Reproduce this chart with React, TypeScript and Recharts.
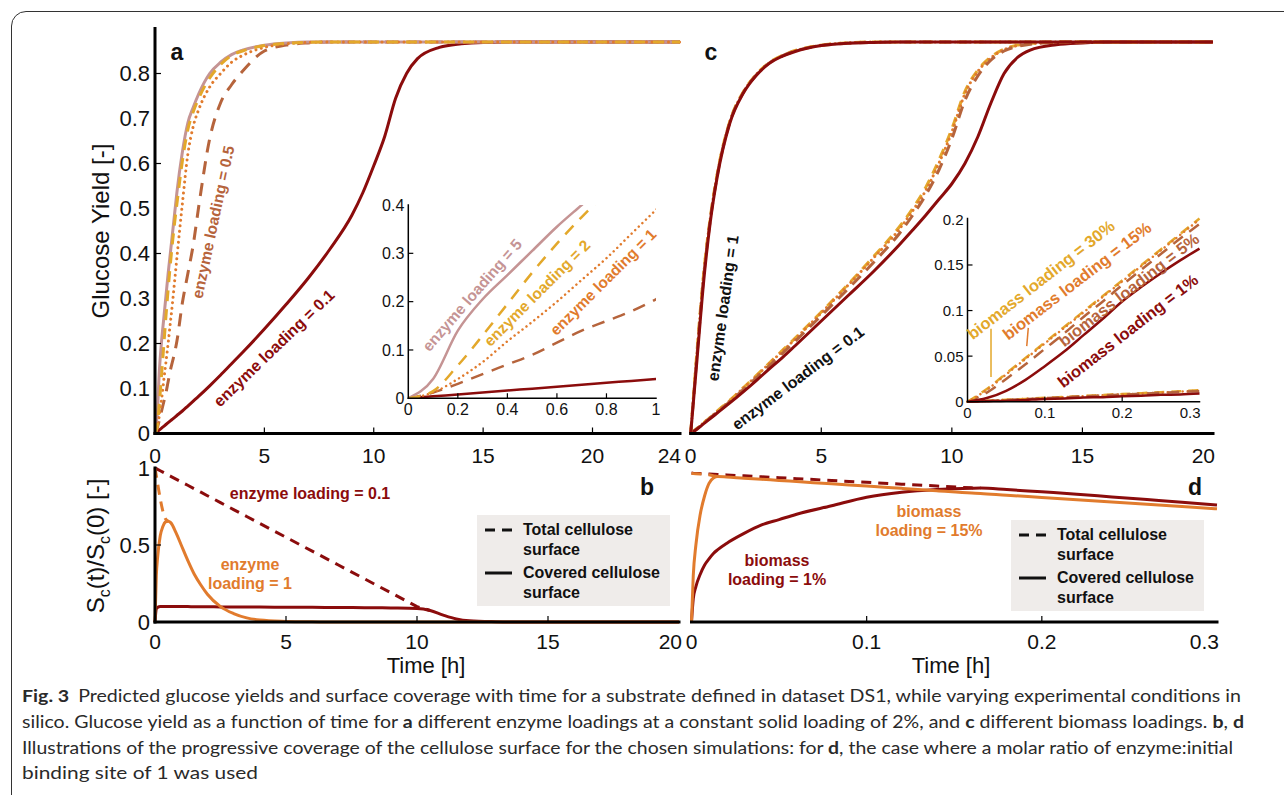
import React from 'react'
import { LineChart, Line, XAxis, YAxis, ReferenceLine } from 'recharts'

const FONT = '"Liberation Sans", Arial, Helvetica, sans-serif'
const DR = '#8B0C0C'
const BR = '#B6643C'
const OR = '#E17B2D'
const GD = '#E3A82B'
const PK = '#C59494'

// panel a (and its inset): glucose yield, enzyme loadings at 2% solids
const timeA = [0, 0.1, 0.2, 0.3, 0.4, 0.5, 0.6, 0.7, 0.8, 0.9, 1, 1.25, 1.5, 1.75, 2, 2.5, 3, 3.5, 4, 5, 6, 7, 8, 9, 9.5, 10, 10.5, 11, 11.5, 12, 13, 14, 15, 17, 20, 24]
const yieldE5 = [0, 0.04, 0.14, 0.205, 0.255, 0.305, 0.355, 0.4, 0.445, 0.49, 0.535, 0.625, 0.69, 0.725, 0.755, 0.8, 0.825, 0.842, 0.852, 0.863, 0.868, 0.87, 0.87, 0.87, 0.87, 0.87, 0.87, 0.87, 0.87, 0.87, 0.87, 0.87, 0.87, 0.87, 0.87, 0.87]
const yieldE2 = [0, 0.015, 0.068, 0.13, 0.195, 0.26, 0.32, 0.375, 0.425, 0.47, 0.51, 0.605, 0.675, 0.715, 0.745, 0.79, 0.82, 0.84, 0.85, 0.862, 0.867, 0.869, 0.87, 0.87, 0.87, 0.87, 0.87, 0.87, 0.87, 0.87, 0.87, 0.87, 0.87, 0.87, 0.87, 0.87]
const yieldE1 = [0, 0.012, 0.04, 0.075, 0.118, 0.158, 0.2, 0.245, 0.29, 0.34, 0.39, 0.51, 0.62, 0.683, 0.72, 0.77, 0.8, 0.825, 0.84, 0.858, 0.866, 0.869, 0.87, 0.87, 0.87, 0.87, 0.87, 0.87, 0.87, 0.87, 0.87, 0.87, 0.87, 0.87, 0.87, 0.87]
const yieldE05 = [0, 0.012, 0.03, 0.05, 0.07, 0.09, 0.115, 0.14, 0.16, 0.18, 0.205, 0.29, 0.355, 0.42, 0.505, 0.655, 0.735, 0.775, 0.805, 0.85, 0.863, 0.868, 0.87, 0.87, 0.87, 0.87, 0.87, 0.87, 0.87, 0.87, 0.87, 0.87, 0.87, 0.87, 0.87, 0.87]
const yieldE01 = [0, 0.004, 0.008, 0.012, 0.016, 0.02, 0.024, 0.028, 0.032, 0.036, 0.04, 0.05, 0.061, 0.072, 0.083, 0.106, 0.13, 0.155, 0.18, 0.232, 0.287, 0.345, 0.41, 0.485, 0.535, 0.595, 0.66, 0.745, 0.8, 0.833, 0.858, 0.866, 0.869, 0.87, 0.87, 0.87]

// panel b: surface coverage, enzyme loading 0.1 and 1
const timeB = [0, 0.05, 0.1, 0.2, 0.3, 0.4, 0.5, 0.6, 0.8, 1, 1.25, 1.5, 1.75, 2, 2.5, 3, 3.5, 4, 5, 6, 7, 8, 9, 10, 10.5, 11, 11.5, 12, 13, 14, 16, 20]
const coveredE1 = [0, 0.3, 0.42, 0.56, 0.62, 0.65, 0.655, 0.645, 0.58, 0.5, 0.4, 0.31, 0.24, 0.18, 0.1, 0.055, 0.027, 0.013, 0.004, 0.001, 0, 0, 0, 0, 0, 0, 0, 0, 0, 0, 0, 0]
const totalE1 = [1, 0.95, 0.9, 0.8, 0.72, 0.67, 0.655, null, null, null, null, null, null, null, null, null, null, null, null, null, null, null, null, null, null, null, null, null, null, null, null, null]
const coveredE01 = [0, 0.085, 0.095, 0.1, 0.1, 0.1, 0.1, 0.1, 0.1, 0.1, 0.1, 0.099, 0.099, 0.099, 0.098, 0.098, 0.097, 0.097, 0.096, 0.095, 0.094, 0.093, 0.091, 0.088, 0.075, 0.045, 0.02, 0.008, 0.002, 0, 0, 0]
const totalE01 = [1, 0.996, 0.991, 0.982, 0.973, 0.964, 0.955, 0.946, 0.928, 0.91, 0.888, 0.865, 0.843, 0.82, 0.775, 0.73, 0.685, 0.64, 0.55, 0.46, 0.37, 0.28, 0.19, 0.1, 0.075, null, null, null, null, null, null, null]

// panel c: glucose yield, biomass loadings, enzyme loading 1 (fast) and 0.1 (slow)
const timeC = [0, 0.25, 0.5, 0.75, 1, 1.5, 2, 2.5, 3, 3.5, 4, 5, 6, 7, 8, 8.5, 9, 9.5, 10, 10.5, 11, 11.5, 12, 12.5, 13, 14, 15, 16, 18, 20]
const fast1 = [0, 0.17, 0.34, 0.47, 0.565, 0.69, 0.755, 0.795, 0.822, 0.838, 0.849, 0.862, 0.867, 0.869, 0.87, 0.87, 0.87, 0.87, 0.87, 0.87, 0.87, 0.87, 0.87, 0.87, 0.87, 0.87, 0.87, 0.87, 0.87, 0.87]
const fast5 = [0, 0.18, 0.35, 0.475, 0.568, 0.692, 0.756, 0.796, 0.823, 0.839, 0.85, 0.862, 0.867, 0.869, 0.87, 0.87, 0.87, 0.87, 0.87, 0.87, 0.87, 0.87, 0.87, 0.87, 0.87, 0.87, 0.87, 0.87, 0.87, 0.87]
const fast15 = [0, 0.185, 0.355, 0.478, 0.57, 0.693, 0.757, 0.797, 0.823, 0.839, 0.85, 0.863, 0.868, 0.87, 0.87, 0.87, 0.87, 0.87, 0.87, 0.87, 0.87, 0.87, 0.87, 0.87, 0.87, 0.87, 0.87, 0.87, 0.87, 0.87]
const fast30 = [0, 0.19, 0.358, 0.48, 0.572, 0.694, 0.758, 0.797, 0.824, 0.84, 0.851, 0.863, 0.868, 0.87, 0.87, 0.87, 0.87, 0.87, 0.87, 0.87, 0.87, 0.87, 0.87, 0.87, 0.87, 0.87, 0.87, 0.87, 0.87, 0.87]
const slow1 = [0, 0.01, 0.022, 0.033, 0.045, 0.068, 0.092, 0.117, 0.143, 0.168, 0.195, 0.25, 0.305, 0.36, 0.42, 0.452, 0.485, 0.52, 0.555, 0.6, 0.66, 0.735, 0.8, 0.835, 0.852, 0.864, 0.868, 0.87, 0.87, 0.87]
const slow5 = [0, 0.011, 0.023, 0.035, 0.047, 0.071, 0.097, 0.123, 0.15, 0.177, 0.205, 0.262, 0.32, 0.38, 0.445, 0.485, 0.53, 0.585, 0.655, 0.74, 0.795, 0.83, 0.85, 0.86, 0.865, 0.869, 0.87, 0.87, 0.87, 0.87]
const slow15 = [0, 0.011, 0.024, 0.036, 0.048, 0.073, 0.1, 0.127, 0.155, 0.182, 0.21, 0.268, 0.328, 0.39, 0.455, 0.495, 0.54, 0.6, 0.67, 0.755, 0.805, 0.835, 0.853, 0.862, 0.866, 0.869, 0.87, 0.87, 0.87, 0.87]
const slow30 = [0, 0.012, 0.024, 0.036, 0.049, 0.074, 0.101, 0.128, 0.156, 0.184, 0.212, 0.27, 0.33, 0.393, 0.46, 0.5, 0.547, 0.607, 0.677, 0.76, 0.808, 0.837, 0.854, 0.863, 0.867, 0.869, 0.87, 0.87, 0.87, 0.87]

// inset of c: first 0.3 h
const timeCi = [0, 0.025, 0.05, 0.075, 0.1, 0.125, 0.15, 0.175, 0.2, 0.225, 0.25, 0.275, 0.3]
const upper1 = [0, 0.004, 0.012, 0.024, 0.039, 0.055, 0.073, 0.091, 0.11, 0.126, 0.141, 0.155, 0.168]
const upper5 = [0, 0.01, 0.025, 0.041, 0.058, 0.075, 0.093, 0.11, 0.128, 0.145, 0.162, 0.179, 0.195]
const upper15 = [0, 0.013, 0.03, 0.047, 0.064, 0.081, 0.098, 0.115, 0.132, 0.149, 0.166, 0.183, 0.2]
const upper30 = [0, 0.014, 0.031, 0.048, 0.065, 0.082, 0.099, 0.116, 0.133, 0.15, 0.167, 0.184, 0.201]
const lower1 = [0, 0.0005, 0.001, 0.002, 0.003, 0.0035, 0.0045, 0.005, 0.006, 0.0065, 0.0075, 0.008, 0.009]
const lower5 = [0, 0.0008, 0.0018, 0.0028, 0.0038, 0.0048, 0.0058, 0.0068, 0.0078, 0.0088, 0.0098, 0.0108, 0.0115]
const lower15 = [0, 0.001, 0.002, 0.003, 0.004, 0.005, 0.006, 0.007, 0.008, 0.009, 0.01, 0.011, 0.012]
const lower30 = [0, 0.001, 0.0021, 0.0031, 0.0042, 0.0052, 0.0063, 0.0073, 0.0084, 0.0094, 0.0105, 0.0115, 0.0126]

// panel d: surface coverage, biomass 1% and 15%
const timeD = [0, 0.001, 0.0025, 0.005, 0.0075, 0.01, 0.0125, 0.015, 0.02, 0.03, 0.04, 0.05, 0.06, 0.08, 0.1, 0.12, 0.14, 0.16, 0.165, 0.18, 0.2, 0.22, 0.24, 0.26, 0.28, 0.3]
const covered15 = [0, 0.3, 0.5, 0.7, 0.82, 0.9, 0.935, 0.945, 0.942, 0.934, 0.927, 0.919, 0.912, 0.897, 0.883, 0.868, 0.853, 0.838, 0.835, 0.823, 0.809, 0.794, 0.779, 0.765, 0.75, 0.735]
const total15 = [0.965, 0.964, 0.963, 0.961, 0.959, 0.956, 0.95, 0.945, null, null, null, null, null, null, null, null, null, null, null, null, null, null, null, null, null, null]
const covered1 = [0, 0.15, 0.23, 0.31, 0.37, 0.41, 0.445, 0.47, 0.51, 0.575, 0.63, 0.665, 0.7, 0.755, 0.81, 0.842, 0.86, 0.869, 0.87, 0.86, 0.845, 0.83, 0.812, 0.795, 0.778, 0.76]
const total1 = [0.967, 0.966, 0.965, 0.964, 0.962, 0.961, 0.96, 0.958, 0.955, 0.949, 0.943, 0.937, 0.931, 0.919, 0.907, 0.895, 0.883, 0.871, 0.87, null, null, null, null, null, null, null]

const BORDER = { stroke: '#000', strokeWidth: 3, strokeLinecap: 'square' as const }
const THIN = { stroke: '#000', strokeWidth: 1.5, strokeLinecap: 'square' as const }
const MARK = { stroke: '#000', strokeWidth: 1.2 }

function BottomTick(props: any) {
  const { x, y, payload, size, gap, marks = [], len = 6, endAt, endDx = 0 } = props
  const v = payload.value
  const isEnd = endAt !== undefined && v === endAt
  return (
    <g>
      {marks.includes(v) && <line x1={x} x2={x} y1={y - gap} y2={y - gap - len} stroke="#000" strokeWidth={1.2} />}
      <text x={isEnd ? x + endDx : x} y={y} dy="0.72em" textAnchor={isEnd ? 'end' : 'middle'} fontSize={size} fontFamily={FONT} fill="#111">
        {v}
      </text>
    </g>
  )
}

function LeftTick(props: any) {
  const { x, y, payload, size, gap, marks = [], len = 6 } = props
  const v = payload.value
  return (
    <g>
      {marks.includes(v) && <line x1={x + gap} x2={x + gap + len} y1={y} y2={y} stroke="#000" strokeWidth={1.2} />}
      <text x={x} y={y} dy="0.36em" textAnchor="end" fontSize={size} fontFamily={FONT} fill="#111">
        {v}
      </text>
    </g>
  )
}

function PanelA() {
  const data = timeA.map((t, i) => ({ t, e5: yieldE5[i], e2: yieldE2[i], e1: yieldE1[i], e05: yieldE05[i], e01: yieldE01[i] }))
  return (
    <LineChart width={700} height={480} data={data} margin={{ top: 28.5, right: 20, bottom: 16.5, left: 100 }}>
      <XAxis dataKey="t" type="number" domain={[0, 24]} ticks={[0, 5, 10, 15, 20, 24]} interval={0} height={30} tickSize={0} tickMargin={14} tickLine={false} axisLine={BORDER}
        tick={<BottomTick size={21} gap={14} marks={[5, 10, 15, 20]} endAt={24} endDx={1} />} />
      <XAxis xAxisId="top" orientation="top" type="number" domain={[0, 24]} ticks={[5, 10, 15, 20]} interval={0} height={0} tick={false} tickSize={-6} tickLine={MARK} axisLine={BORDER} />
      <YAxis type="number" domain={[0, 0.9]} ticks={[0, 0.1, 0.2, 0.3, 0.4, 0.5, 0.6, 0.7, 0.8]} interval={0} width={55} tickSize={0} tickMargin={5} tickLine={false} axisLine={BORDER}
        tick={<LeftTick size={22} gap={5} marks={[0.2, 0.4, 0.6, 0.8]} />} />
      <YAxis yAxisId="right" orientation="right" type="number" domain={[0, 0.9]} ticks={[0.2, 0.4, 0.6, 0.8]} interval={0} width={0} tick={false} tickSize={-6} tickLine={MARK} axisLine={BORDER} />
      <Line dataKey="e01" type="monotone" stroke={DR} strokeWidth={3} dot={false} isAnimationActive={false} />
      <Line dataKey="e05" type="monotone" stroke={BR} strokeWidth={3} strokeDasharray="13 9" dot={false} isAnimationActive={false} />
      <Line dataKey="e5" type="monotone" stroke={PK} strokeWidth={3} dot={false} isAnimationActive={false} />
      <Line dataKey="e1" type="monotone" stroke={OR} strokeWidth={3} strokeDasharray="0.01 5.5" strokeLinecap="round" dot={false} isAnimationActive={false} />
      <Line dataKey="e2" type="monotone" stroke={GD} strokeWidth={3} strokeDasharray="11 8" dot={false} isAnimationActive={false} />
    </LineChart>
  )
}

function InsetA() {
  const data = timeA.map((t, i) => ({ t, e5: yieldE5[i], e2: yieldE2[i], e1: yieldE1[i], e05: yieldE05[i], e01: yieldE01[i] }))
  return (
    <LineChart width={320} height={240} data={data} margin={{ top: 15, right: 14, bottom: 6.7, left: 18.3 }}>
      <XAxis dataKey="t" type="number" domain={[0, 1]} allowDataOverflow ticks={[0, 0.2, 0.4, 0.6, 0.8, 1]} interval={0} height={25} tickSize={0} tickMargin={5} tickLine={false} axisLine={THIN}
        tick={<BottomTick size={16} gap={5} marks={[0.2, 0.4, 0.6, 0.8]} len={5} />} />
      <XAxis xAxisId="top" orientation="top" type="number" domain={[0, 1]} ticks={[0.2, 0.4, 0.6, 0.8]} interval={0} height={0} tick={false} tickSize={-5} tickLine={MARK} axisLine={THIN} />
      <YAxis type="number" domain={[0, 0.4]} allowDataOverflow ticks={[0, 0.1, 0.2, 0.3, 0.4]} interval={0} width={40} tickSize={0} tickMargin={4} tickLine={false} axisLine={THIN}
        tick={<LeftTick size={16} gap={4} marks={[0.1, 0.2, 0.3]} len={5} />} />
      <YAxis yAxisId="right" orientation="right" type="number" domain={[0, 0.4]} ticks={[0.1, 0.2, 0.3]} interval={0} width={0} tick={false} tickSize={-5} tickLine={MARK} axisLine={THIN} />
      <Line dataKey="e01" type="monotone" stroke={DR} strokeWidth={2.5} dot={false} isAnimationActive={false} />
      <Line dataKey="e05" type="monotone" stroke={BR} strokeWidth={2.5} strokeDasharray="13 9" dot={false} isAnimationActive={false} />
      <Line dataKey="e5" type="monotone" stroke={PK} strokeWidth={2.5} dot={false} isAnimationActive={false} />
      <Line dataKey="e1" type="monotone" stroke={OR} strokeWidth={2.5} strokeDasharray="0.01 5" strokeLinecap="round" dot={false} isAnimationActive={false} />
      <Line dataKey="e2" type="monotone" stroke={GD} strokeWidth={2.5} strokeDasharray="12 9" dot={false} isAnimationActive={false} />
    </LineChart>
  )
}

function PanelB() {
  const data = timeB.map((t, i) => ({ t, c1: coveredE1[i], s1: totalE1[i], c01: coveredE01[i], s01: totalE01[i] }))
  return (
    <LineChart width={700} height={240} data={data} margin={{ top: 28, right: 21, bottom: 28, left: 100 }}>
      <XAxis dataKey="t" type="number" domain={[0, 20]} ticks={[0, 5, 10, 15, 20]} interval={0} height={30} tickSize={0} tickMargin={12} tickLine={false} axisLine={BORDER}
        tick={<BottomTick size={21} gap={12} marks={[5, 10, 15]} endAt={20} endDx={3} />} />
      <XAxis xAxisId="top" orientation="top" type="number" domain={[0, 20]} ticks={[5, 10, 15]} interval={0} height={0} tick={false} tickSize={-6} tickLine={MARK} axisLine={BORDER} />
      <YAxis type="number" domain={[0, 1]} ticks={[0, 0.5, 1]} interval={0} width={55} tickSize={0} tickMargin={5} tickLine={false} axisLine={BORDER}
        tick={<LeftTick size={22} gap={5} marks={[0.5]} />} />
      <YAxis yAxisId="right" orientation="right" type="number" domain={[0, 1]} ticks={[0.5]} interval={0} width={0} tick={false} tickSize={-6} tickLine={MARK} axisLine={BORDER} />
      <Line dataKey="s01" type="linear" stroke={DR} strokeWidth={3} strokeDasharray="10 7" dot={false} isAnimationActive={false} />
      <Line dataKey="s1" type="monotone" stroke={OR} strokeWidth={3} strokeDasharray="10 7" dot={false} isAnimationActive={false} />
      <Line dataKey="c01" type="monotone" stroke={DR} strokeWidth={3} dot={false} isAnimationActive={false} />
      <Line dataKey="c1" type="monotone" stroke={OR} strokeWidth={3} dot={false} isAnimationActive={false} />
    </LineChart>
  )
}

function PanelC() {
  const data = timeC.map((t, i) => ({ t, f1: fast1[i], f5: fast5[i], f15: fast15[i], f30: fast30[i], s1: slow1[i], s5: slow5[i], s15: slow15[i], s30: slow30[i] }))
  return (
    <LineChart width={600} height={480} data={data} margin={{ top: 28.5, right: 27, bottom: 16.5, left: 50.7 }}>
      <XAxis dataKey="t" type="number" domain={[0, 20]} ticks={[0, 5, 10, 15, 20]} interval={0} height={30} tickSize={0} tickMargin={14} tickLine={false} axisLine={BORDER}
        tick={<BottomTick size={21} gap={14} marks={[5, 10, 15]} endAt={20} endDx={2} />} />
      <XAxis xAxisId="top" orientation="top" type="number" domain={[0, 20]} ticks={[5, 10, 15]} interval={0} height={0} tick={false} tickSize={-6} tickLine={MARK} axisLine={BORDER} />
      <YAxis type="number" domain={[0, 0.9]} ticks={[0.2, 0.4, 0.6, 0.8]} interval={0} width={0} tick={false} tickSize={-6} tickLine={MARK} axisLine={BORDER} />
      <YAxis yAxisId="right" orientation="right" type="number" domain={[0, 0.9]} ticks={[0.2, 0.4, 0.6, 0.8]} interval={0} width={0} tick={false} tickSize={-6} tickLine={MARK} axisLine={BORDER} />
      <Line dataKey="s30" type="monotone" stroke={GD} strokeWidth={3} strokeDasharray="10 7" dot={false} isAnimationActive={false} />
      <Line dataKey="s15" type="monotone" stroke={OR} strokeWidth={3} strokeDasharray="0.01 5" strokeLinecap="round" dot={false} isAnimationActive={false} />
      <Line dataKey="s5" type="monotone" stroke={BR} strokeWidth={3} strokeDasharray="12 8" dot={false} isAnimationActive={false} />
      <Line dataKey="s1" type="monotone" stroke={DR} strokeWidth={3} dot={false} isAnimationActive={false} />
      <Line dataKey="f30" type="monotone" stroke={GD} strokeWidth={3} strokeDasharray="10 7" dot={false} isAnimationActive={false} />
      <Line dataKey="f15" type="monotone" stroke={OR} strokeWidth={3} strokeDasharray="0.01 5" strokeLinecap="round" dot={false} isAnimationActive={false} />
      <Line dataKey="f5" type="monotone" stroke={BR} strokeWidth={3} strokeDasharray="12 8" dot={false} isAnimationActive={false} />
      <Line dataKey="f1" type="monotone" stroke={DR} strokeWidth={3} dot={false} isAnimationActive={false} />
    </LineChart>
  )
}

function InsetC() {
  const data = timeCi.map((t, i) => ({ t, u1: upper1[i], u5: upper5[i], u15: upper15[i], u30: upper30[i], l1: lower1[i], l5: lower5[i], l15: lower15[i], l30: lower30[i] }))
  return (
    <LineChart width={310} height={230} data={data} margin={{ top: 18.5, right: 20.5, bottom: 3.3, left: 10 }}>
      <XAxis dataKey="t" type="number" domain={[0, 0.3]} ticks={[0, 0.1, 0.2, 0.3]} interval={0} height={25} tickSize={0} tickMargin={5} tickLine={false} axisLine={THIN}
        tick={<BottomTick size={15} gap={5} marks={[0.1, 0.2]} len={5} endAt={0.3} endDx={1} />} />
      <XAxis xAxisId="top" orientation="top" type="number" domain={[0, 0.3]} ticks={[0.1, 0.2]} interval={0} height={0} tick={false} tickSize={-5} tickLine={MARK} axisLine={THIN} />
      <YAxis type="number" domain={[0, 0.2]} ticks={[0, 0.05, 0.1, 0.15, 0.2]} interval={0} width={47.5} tickSize={0} tickMargin={4} tickLine={false} axisLine={THIN}
        tick={<LeftTick size={15} gap={4} marks={[0.05, 0.1, 0.15]} len={5} />} />
      <YAxis yAxisId="right" orientation="right" type="number" domain={[0, 0.2]} ticks={[0.05, 0.1, 0.15]} interval={0} width={0} tick={false} tickSize={-5} tickLine={MARK} axisLine={THIN} />
      <ReferenceLine segment={[{ x: 0.0304, y: 0.08 }, { x: 0.0304, y: 0.027 }]} stroke={GD} strokeWidth={1.5} />
      <ReferenceLine segment={[{ x: 0.0786, y: 0.081 }, { x: 0.0766, y: 0.061 }]} stroke={OR} strokeWidth={1.5} />
      <Line dataKey="l30" type="monotone" stroke={GD} strokeWidth={2.5} strokeDasharray="10 7" dot={false} isAnimationActive={false} />
      <Line dataKey="l15" type="monotone" stroke={OR} strokeWidth={2.5} strokeDasharray="0.01 5" strokeLinecap="round" dot={false} isAnimationActive={false} />
      <Line dataKey="l5" type="monotone" stroke={BR} strokeWidth={2.5} strokeDasharray="12 8" dot={false} isAnimationActive={false} />
      <Line dataKey="l1" type="monotone" stroke={DR} strokeWidth={2.5} dot={false} isAnimationActive={false} />
      <Line dataKey="u5" type="monotone" stroke={BR} strokeWidth={2.5} strokeDasharray="12 8" dot={false} isAnimationActive={false} />
      <Line dataKey="u30" type="monotone" stroke={GD} strokeWidth={2.5} strokeDasharray="10 7" dot={false} isAnimationActive={false} />
      <Line dataKey="u15" type="monotone" stroke={OR} strokeWidth={2.5} strokeDasharray="0.01 5" strokeLinecap="round" dot={false} isAnimationActive={false} />
      <Line dataKey="u1" type="monotone" stroke={DR} strokeWidth={2.5} dot={false} isAnimationActive={false} />
    </LineChart>
  )
}

function PanelD() {
  const data = timeD.map((t, i) => ({ t, c15: covered15[i], s15: total15[i], c1: covered1[i], s1: total1[i] }))
  return (
    <LineChart width={600} height={240} data={data} margin={{ top: 28, right: 23, bottom: 28, left: 51.5 }}>
      <XAxis dataKey="t" type="number" domain={[0, 0.3]} ticks={[0, 0.1, 0.2, 0.3]} interval={0} height={30} tickSize={0} tickMargin={12} tickLine={false} axisLine={BORDER}
        tick={<BottomTick size={21} gap={12} marks={[0.1, 0.2]} endAt={0.3} endDx={2} />} />
      <XAxis xAxisId="top" orientation="top" type="number" domain={[0, 0.3]} ticks={[0.1, 0.2]} interval={0} height={0} tick={false} tickSize={-6} tickLine={MARK} axisLine={BORDER} />
      <YAxis type="number" domain={[0, 1]} ticks={[0.5]} interval={0} width={0} tick={false} tickSize={-6} tickLine={MARK} axisLine={BORDER} />
      <YAxis yAxisId="right" orientation="right" type="number" domain={[0, 1]} ticks={[0.5]} interval={0} width={0} tick={false} tickSize={-6} tickLine={MARK} axisLine={BORDER} />
      <Line dataKey="s1" type="linear" stroke={DR} strokeWidth={3} strokeDasharray="10 7" dot={false} isAnimationActive={false} />
      <Line dataKey="s15" type="linear" stroke={OR} strokeWidth={3} strokeDasharray="10 7" dot={false} isAnimationActive={false} />
      <Line dataKey="c1" type="monotone" stroke={DR} strokeWidth={3} dot={false} isAnimationActive={false} />
      <Line dataKey="c15" type="monotone" stroke={OR} strokeWidth={3} dot={false} isAnimationActive={false} />
    </LineChart>
  )
}

function Note({ x, y, angle = 0, color = '#111', size = 16, bold = true, children }: any) {
  return (
    <div style={{
      position: 'absolute', left: x, top: y, transform: `translate(-50%, -50%) rotate(${angle}deg)`,
      whiteSpace: 'nowrap', color, fontSize: size, fontWeight: bold ? 700 : 400, fontFamily: FONT,
      lineHeight: '19px', textAlign: 'center',
    }}>
      {children}
    </div>
  )
}

function SurfaceLegend({ left, top }: { left: number; top: number }) {
  const txt = { position: 'absolute' as const, left: 46, fontSize: 16, fontWeight: 700, lineHeight: '20px', color: '#111', fontFamily: FONT, whiteSpace: 'nowrap' as const }
  return (
    <div style={{ position: 'absolute', left, top, width: 193, height: 91, background: '#EFECEA' }}>
      <svg width={40} height={91} style={{ position: 'absolute', left: 0, top: 0 }}>
        <line x1={8} x2={35} y1={15} y2={15} stroke="#111" strokeWidth={3} strokeDasharray="10 7" />
        <line x1={8} x2={35} y1={58} y2={58} stroke="#111" strokeWidth={3} />
      </svg>
      <div style={{ ...txt, top: 5 }}>Total cellulose<br />surface</div>
      <div style={{ ...txt, top: 48 }}>Covered cellulose<br />surface</div>
    </div>
  )
}

const CAP = { fontFamily: 'Lato, "Open Sans", sans-serif', fontSize: 17.5, fill: '#2a2a2a' }

export default function App() {
  return (
    <div style={{ position: 'absolute', left: 0, top: 0, width: 1284, height: 795, background: '#fff', overflow: 'hidden', fontFamily: FONT }}>
      <div style={{ position: 'absolute', left: 11, top: 11, width: 1320, height: 820, border: '1.2px solid #333', borderRadius: 15 }} />

      <div style={{ position: 'absolute', left: 0, top: 0 }}><PanelA /></div>
      <div style={{ position: 'absolute', left: 640, top: 0 }}><PanelC /></div>
      <div style={{ position: 'absolute', left: 0, top: 440 }}><PanelB /></div>
      <div style={{ position: 'absolute', left: 640, top: 440 }}><PanelD /></div>

      <div style={{ position: 'absolute', left: 408, top: 205, width: 248, height: 193, background: '#fff' }} />
      <div style={{ position: 'absolute', left: 350, top: 190 }}><InsetA /></div>
      <div style={{ position: 'absolute', left: 967, top: 218, width: 232, height: 184, background: '#fff' }} />
      <div style={{ position: 'absolute', left: 910, top: 200 }}><InsetC /></div>

      {/* axis titles */}
      <Note x={100} y={231} angle={-90} size={24} bold={false}>Glucose Yield [-]</Note>
      <Note x={100} y={546} angle={-90} size={24} bold={false}>S<sub style={{ fontSize: 16 }}>c</sub>(t)/S<sub style={{ fontSize: 16 }}>c</sub>(0) [-]</Note>
      <Note x={426} y={665} size={22} bold={false}>Time [h]</Note>
      <Note x={951} y={665} size={22} bold={false}>Time [h]</Note>

      {/* panel letters */}
      <Note x={177} y={52} size={23}>a</Note>
      <Note x={711} y={52} size={23}>c</Note>
      <Note x={647} y={487} size={23}>b</Note>
      <Note x={1195} y={487} size={23}>d</Note>

      {/* panel a */}
      <Note x={213} y={222} angle={-78} color={BR} size={15.5}>enzyme loading = 0.5</Note>
      <Note x={274} y={348} angle={-44} color={DR}>enzyme loading = 0.1</Note>
      <Note x={472} y={295} angle={-49} color={PK} size={15.5}>enzyme loading = 5</Note>
      <Note x={537} y={293} angle={-45} color={GD} size={15.5}>enzyme loading = 2</Note>
      <Note x={603} y={282} angle={-45} color={OR} size={15.5}>enzyme loading = 1</Note>

      {/* panel c */}
      <Note x={723} y={308} angle={-82}>enzyme loading = 1</Note>
      <Note x={798} y={378} angle={-37}>enzyme loading = 0.1</Note>
      <Note x={1041} y={280} angle={-38} color={GD} size={16.5}>biomass loading = 30%</Note>
      <Note x={1077} y={281} angle={-37.5} color={OR} size={16.5}>biomass loading = 15%</Note>
      <Note x={1129} y={290} angle={-38} color={BR} size={16.5}>biomass loading = 5%</Note>
      <Note x={1128} y={331} angle={-38} color={DR} size={16.5}>biomass loading = 1%</Note>

      {/* panel b */}
      <Note x={310} y={493} color={DR}>enzyme loading = 0.1</Note>
      <Note x={250} y={574} color={OR}>enzyme<br />loading = 1</Note>
      <SurfaceLegend left={477} top={515} />

      {/* panel d */}
      <Note x={929} y={521} color={OR}>biomass<br />loading = 15%</Note>
      <Note x={777} y={570} color={DR}>biomass<br />loading = 1%</Note>
      <SurfaceLegend left={1011} top={520} />

      <svg width={1284} height={115} style={{ position: 'absolute', left: 0, top: 680 }}>
        <text x={22} y={22} textLength={1219} lengthAdjust="spacingAndGlyphs" {...CAP}>
          <tspan fontWeight={700}>Fig. 3</tspan>
          <tspan dx={8}>Predicted glucose yields and surface coverage with time for a substrate defined in dataset DS1, while varying experimental conditions in</tspan>
        </text>
        <text x={22} y={48} textLength={1222} lengthAdjust="spacingAndGlyphs" {...CAP}>
          silico. Glucose yield as a function of time for <tspan fontWeight={700}>a</tspan> different enzyme loadings at a constant solid loading of 2%, and <tspan fontWeight={700}>c</tspan> different biomass loadings. <tspan fontWeight={700}>b</tspan>, <tspan fontWeight={700}>d</tspan>
        </text>
        <text x={22} y={74} textLength={1211} lengthAdjust="spacingAndGlyphs" {...CAP}>
          Illustrations of the progressive coverage of the cellulose surface for the chosen simulations: for <tspan fontWeight={700}>d</tspan>, the case where a molar ratio of enzyme:initial
        </text>
        <text x={22} y={99} textLength={236} lengthAdjust="spacingAndGlyphs" {...CAP}>
          binding site of 1 was used
        </text>
      </svg>
    </div>
  )
}
